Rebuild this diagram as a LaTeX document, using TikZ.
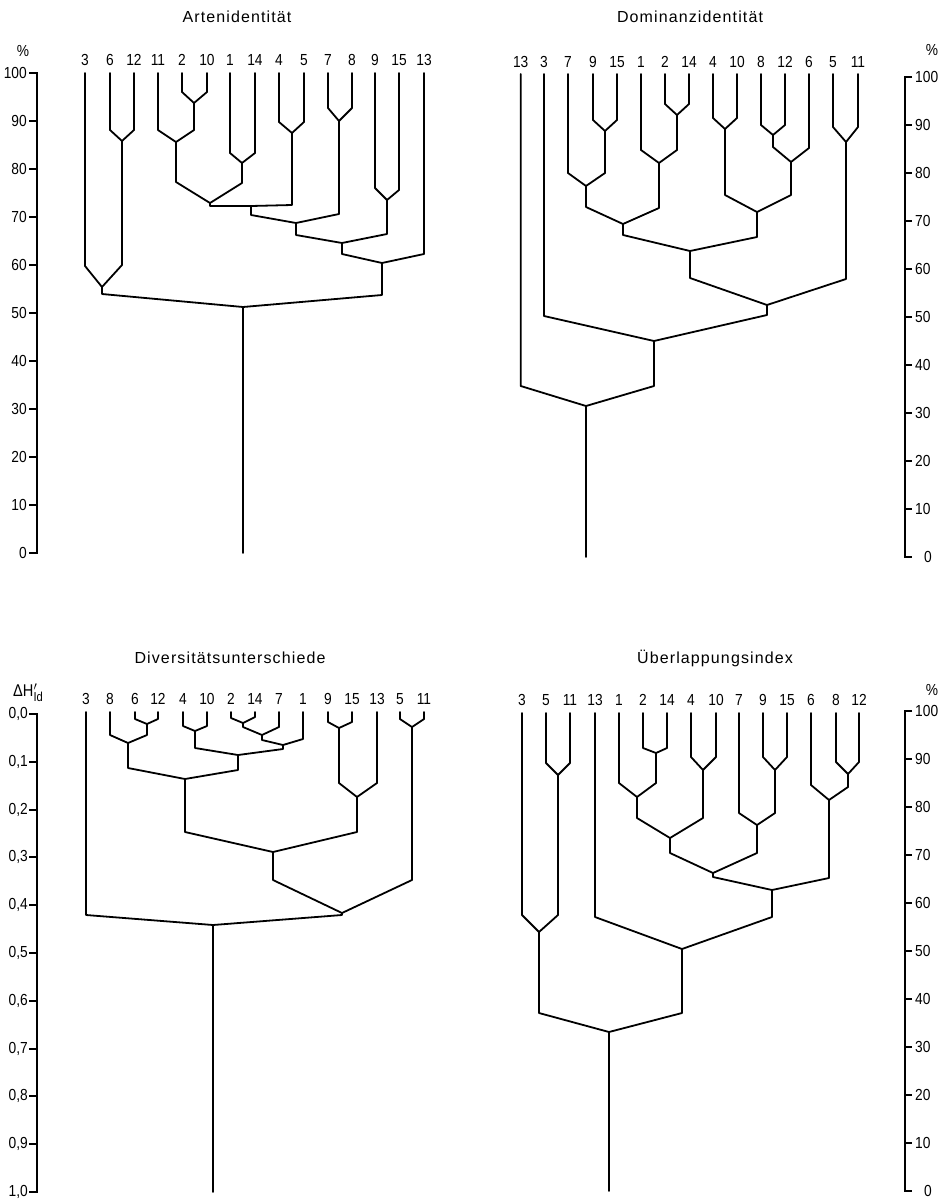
\documentclass[tikz,border=0pt]{standalone}
\usepackage{fontspec}
\setmainfont{Liberation Sans}
\newfontfamily\titlefont[LetterSpace=7]{Liberation Sans}
\newfontfamily\numfont[FakeStretch=0.86]{Liberation Sans}

% Draws one dendrogram.
% #1 prefix, #2 y of leaf tops, #3 y of leaf labels,
% #4 leaves: label/x/shoulder/parent, #5 joins: name/x/y/shoulder/parent,
% #6 root: x/y/bottom
\newcommand\drawtree[6]{%
  \foreach \rx/\ry/\rb in {#6} {%
    \coordinate (#1-root) at (\rx,\ry);
    \coordinate (#1-base) at (\rx,\rb);
    \draw[branch] (#1-root) -- (#1-base);
  }
  \foreach \n/\x/\y/\s/\p in {#5} {%
    \coordinate (#1-\n) at (\x,\y);
    \coordinate (#1-\n-s) at (\x,\s);
  }
  \foreach \n/\x/\y/\s/\p in {#5} {%
    \draw[branch] (#1-\n) -- (#1-\n-s) -- (#1-\p);
  }
  \foreach \n/\x/\s/\p in {#4} {%
    \coordinate (#1-L\n) at (\x,#2);
    \coordinate (#1-L\n-s) at (\x,\s);
    \node[leaflab] (#1-T\n) at (\x,#3) {\n};
    \draw[branch] (#1-L\n) -- (#1-L\n-s) -- (#1-\p);
  }
}

\begin{document}
\begin{tikzpicture}[x=1pt,y=-1pt,
  branch/.style={line width=1.8pt, line join=round, line cap=round},
  axis/.style={line width=2.8pt, line join=miter},
  tick/.style={line width=1.9pt},
  leaflab/.style={font=\numfont\fontsize{16}{18}\selectfont, inner sep=0pt},
  axlab/.style={font=\numfont\fontsize{16}{18}\selectfont, inner sep=0pt},
  title/.style={font=\titlefont\fontsize{16}{18}\selectfont, inner sep=0pt, anchor=base}]
\useasboundingbox (0,0) rectangle (945,1203);

% ---------------- titles ----------------
\node[title] (tA) at (237,22) {Artenidentität};
\node[title] (tB) at (690,22) {Dominanzidentität};
\node[title] (tC) at (230,663) {Diversitätsunterschiede};
\node[title] (tD) at (715,663) {Überlappungsindex};

% ---------------- axes ----------------
% Artenidentität, left scale
\node[axlab] (uA) at (23,51) {\%};
\draw[axis] (29,73) -- (37,73) -- (37,553) -- (29,553);
\foreach \v [count=\i from 0] in {100,90,80,70,60,50,40,30,20,10,0} {%
  \pgfmathsetmacro\yy{73+48*\i}
  \draw[tick] (29,\yy) -- (37,\yy);
  \node[axlab, anchor=east] (aA\i) at (27,\yy) {\v};
}
% Dominanzidentität, right scale
\node[axlab] (uB) at (932,50) {\%};
\draw[axis] (912,77) -- (905,77) -- (905,557) -- (912,557);
\foreach \v [count=\i from 0] in {100,90,80,70,60,50,40,30,20,10} {%
  \pgfmathsetmacro\yy{77+48*\i}
  \draw[tick] (905,\yy) -- (912,\yy);
  \node[axlab, anchor=west] (aB\i) at (915,\yy) {\v};
}
\node[axlab, anchor=west] (aB10) at (924,557) {0};
% Diversitätsunterschiede, left scale
\node[font=\numfont\fontsize{17}{19}\selectfont, inner sep=0pt] (uC) at (28,693)
  {ΔH\rlap{$^{\prime}$}\raisebox{-0.3em}{\fontsize{13}{13}\selectfont Id}};
\draw[axis] (29,714) -- (37,714) -- (37,1192) -- (29,1192);
\foreach \v [count=\i from 0] in {{0,0},{0,1},{0,2},{0,3},{0,4},{0,5},{0,6},{0,7},{0,8},{0,9},{1,0}} {%
  \pgfmathsetmacro\yy{714+47.8*\i}
  \draw[tick] (29,\yy) -- (37,\yy);
  \node[axlab, anchor=east] (aC\i) at (28,\yy) {\v};
}
% Überlappungsindex, right scale
\node[axlab] (uD) at (932,690) {\%};
\draw[axis] (912,711) -- (905,711) -- (905,1191) -- (912,1191);
\foreach \v [count=\i from 0] in {100,90,80,70,60,50,40,30,20,10} {%
  \pgfmathsetmacro\yy{711+48*\i}
  \draw[tick] (905,\yy) -- (912,\yy);
  \node[axlab, anchor=west] (aD\i) at (915,\yy) {\v};
}
\node[axlab, anchor=west] (aD10) at (924,1191) {0};

% ---------------- Artenidentität ----------------
\drawtree{a}{73}{60}
 {3/85/266/J3612, 6/110/130/J612, 12/134/130/J612, 11/158/130/J11210,
  2/182/92/J210, 10/207/92/J210, 1/230/153/J114, 14/255/153/J114,
  4/279/122/J45, 5/304/122/J45, 7/328/108/J78, 8/352/108/J78,
  9/375/188/J915, 15/399/190/J915, 13/424/254/JD}
 {J612/122/141/265/J3612, J3612/102/287/294/root,
  J210/194/103/130/J11210, J11210/176/142/182/JA,
  J114/242/163/183/JA, JA/210/203/206/JA45,
  J45/292/133/205/JA45, JA45/251/206/215/JB,
  J78/339/121/214/JB, JB/296/223/235/JC,
  J915/387/200/234/JC, JC/342/243/254/JD,
  JD/382/263/295/root}
 {243/307/553}

% ---------------- Dominanzidentität ----------------
\drawtree{b}{74}{62}
 {13/520.7/386/root, 3/544/316/J3, 7/568/173/J7, 9/593/120/J915,
  15/617/120/J915, 1/641/150/J1, 2/665/104/J214, 14/689/104/J214,
  4/713/118/J410, 10/737/118/J410, 8/761/125/J812, 12/785/125/J812,
  6/809/148/J6, 5/833/127/J511, 11/858/127/J511}
 {J915/605/131/173/J7, J7/586/186/207/JL,
  J214/677/115/150/J1, J1/659/163/208/JL,
  JL/623/224/235/JM, J410/725/129/195/JR,
  J812/773/135/147/J6, J6/791/162/195/JR,
  JR/757/212/237/JM, JM/690/251/278/JN,
  J511/846/142/279/JN, JN/767/305/315/J3,
  J3/654/341/386/root}
 {586/406/557}

% ---------------- Diversitätsunterschiede ----------------
\drawtree{c}{712}{699}
 {3/86/915/root, 8/110/735/J8, 6/135/719/J612, 12/158/719/J612,
  4/183/726/J410, 10/207/726/J410, 2/231/718/J214, 14/255/717/J214,
  7/279/727/J7, 1/303/739/J1, 9/328/722/J915, 15/352/722/J915,
  13/377/783/J13, 5/400/719/J511, 11/424/719/J511}
 {J612/147/724/735/J8, J8/128/743/768/JA,
  J410/195/731/748/JB, J214/243/723/727/J7,
  J7/262/735/740/J1, J1/283/745/749/JB,
  JB/238/755/770/JA, JA/185/779/832/JC,
  J915/339/728/783/J13, J13/357/797/832/JC,
  JC/273/852/880/JD, J511/412/727/880/JD,
  JD/342/913/915/root}
 {213/925/1192}

% ---------------- Überlappungsindex ----------------
\drawtree{d}{713}{700}
 {3/522/915/J3, 5/546/763/J511, 11/570/763/J511, 13/595/917/J13,
  1/619/783/J1, 2/643/748/J214, 14/667/748/J214, 4/691/757/J410,
  10/716/757/J410, 7/739/813/J7, 9/763/757/J915, 15/787/757/J915,
  6/811/785/J6, 8/836/762/J812, 12/859/762/J812}
 {J511/558/775/915/J3, J3/539/932/1013/root,
  J214/656/753/783/J1, J1/637/797/818/JA,
  J410/703/770/818/JA, JA/670/838/853/JB,
  J915/775/770/813/J7, J7/757/825/853/JB,
  JB/713/873/877/JC, J812/848/774/787/J6,
  J6/829/800/878/JC, JC/772/890/917/J13,
  J13/682/949/1013/root}
 {609/1032/1191}

\end{tikzpicture}
\end{document}
